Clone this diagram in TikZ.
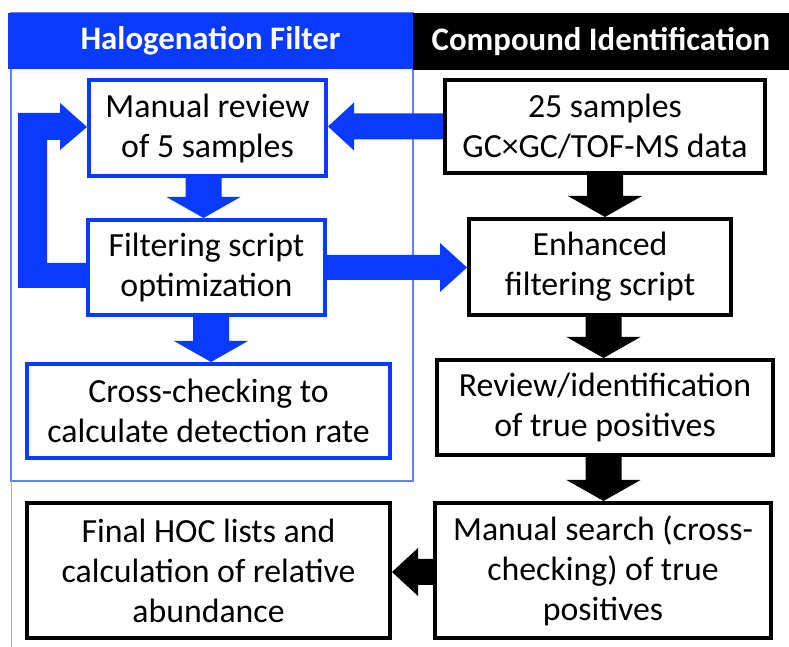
\documentclass[tikz,border=0pt]{standalone}
\usepackage{fontspec}
\setmainfont{Carlito}
\usetikzlibrary{calc}
\definecolor{hblue}{RGB}{8,58,255}
\definecolor{pblue}{RGB}{95,130,255}
\definecolor{fgray}{RGB}{175,175,175}
% #1 offset of shaft centre, #2 colour, #3 upper node, #4 lower node
\newcommand\blockdown[4][0]{%
  \fill[#2] let \p1=(#3.south), \p2=(#4.north) in
    ({\x1+#1pt-18pt},\y1) -- ({\x1+#1pt-18pt},{\y2+21pt}) -- ({\x1+#1pt-37pt},{\y2+21pt})
    -- ({\x1+#1pt},\y2) -- ({\x1+#1pt+37pt},{\y2+21pt}) -- ({\x1+#1pt+18pt},{\y2+21pt})
    -- ({\x1+#1pt+18pt},\y1) -- cycle;}
% arrow pointing left: #3 right node, #4 left node
\newcommand\blockleft[4][0]{%
  \fill[#2] let \p1=(#3.west), \p2=(#4.east) in
    (\x1,{\y1+#1pt+13pt}) -- ({\x2+26pt},{\y1+#1pt+13pt}) -- ({\x2+26pt},{\y1+#1pt+24pt})
    -- (\x2,{\y1+#1pt}) -- ({\x2+26pt},{\y1+#1pt-24pt}) -- ({\x2+26pt},{\y1+#1pt-13pt})
    -- (\x1,{\y1+#1pt-13pt}) -- cycle;}
% arrow pointing right: #3 left node, #4 right node
\newcommand\blockright[4][0]{%
  \fill[#2] let \p1=(#3.east), \p2=(#4.west) in
    (\x1,{\y1+#1pt+12.5pt}) -- ({\x2-27pt},{\y1+#1pt+12.5pt}) -- ({\x2-27pt},{\y1+#1pt+24.5pt})
    -- (\x2,{\y1+#1pt}) -- ({\x2-27pt},{\y1+#1pt-24.5pt}) -- ({\x2-27pt},{\y1+#1pt-12.5pt})
    -- (\x1,{\y1+#1pt-12.5pt}) -- cycle;}
\begin{document}
\begin{tikzpicture}[x=1pt,y=1pt,
  boxb/.style={draw=hblue,line width=4pt,fill=white,inner sep=0pt,align=center,
    font=\fontsize{33.8}{40}\selectfont},
  boxk/.style={boxb,draw=black},
  headbar/.style={inner sep=0pt,text=white,font=\bfseries\fontsize{32.8}{38}\selectfont}]
\useasboundingbox (0,0) rectangle (789,647);
% panel frame
\draw[pblue,line width=1.3pt] (11,634) rectangle (413,166);
\draw[fgray,line width=1pt] (11,166) -- (11,0);
% headers
\node[headbar,fill=hblue,minimum width=405pt,minimum height=56pt] (hf) at (210.5,606) {Halogenation Filter};
\node[headbar,fill=black,minimum width=376pt,minimum height=57pt] (ci) at (601,605.5) {Compound Identification};
% boxes
\node[boxb,minimum width=237pt,minimum height=96pt] (rev5) at (207.5,519) {Manual review\\of 5 samples};
\node[boxb,minimum width=237pt,minimum height=95pt] (filt) at (206.5,379.5) {Filtering script\\optimization};
\node[boxb,minimum width=363pt,minimum height=94pt] (cross) at (208.5,236) {Cross-checking to\\calculate detection rate};
\node[boxk,minimum width=320pt,minimum height=93pt] (s25) at (605,520.5) {25 samples\\GC×GC/TOF-MS data};
\node[boxk,minimum width=262pt,minimum height=96pt] (enh) at (600,380) {Enhanced\\filtering script};
\node[boxk,minimum width=336pt,minimum height=95pt] (revid) at (605,239.5) {Review/identification\\of true positives};
\node[boxk,minimum width=336pt,minimum height=135pt] (msearch) at (603,76.5) {Manual search (cross-\\checking) of true\\positives};
\node[boxk,minimum width=363pt,minimum height=135pt] (final) at (208.5,76.5) {Final HOC lists and\\calculation of relative\\abundance};
% blue connectors
\blockdown[-4]{hblue}{rev5}{filt}
\blockdown[4.5]{hblue}{filt}{cross}
\blockleft{hblue}{s25}{rev5}
\blockright{hblue}{filt}{enh}
\fill[hblue] let \p1=(filt.west), \p2=(rev5.west) in
  (\x1,{\y1+4.5pt}) -- ({\x1-39pt},{\y1+4.5pt}) -- ({\x1-39pt},{\y2-12pt})
  -- ({\x2-27pt},{\y2-12pt}) -- ({\x2-27pt},{\y2-22pt}) -- (\x2,{\y2+1pt})
  -- ({\x2-27pt},{\y2+25pt}) -- ({\x2-27pt},{\y2+15pt}) -- ({\x1-68pt},{\y2+15pt})
  -- ({\x1-68pt},{\y1-20.5pt}) -- (\x1,{\y1-20.5pt}) -- cycle;
% black connectors
\blockdown{black}{s25}{enh}
\blockdown[3.5]{black}{enh}{revid}
\blockdown[-1.5]{black}{revid}{msearch}
\blockleft[-1.5]{black}{msearch}{final}
\end{tikzpicture}
\end{document}
